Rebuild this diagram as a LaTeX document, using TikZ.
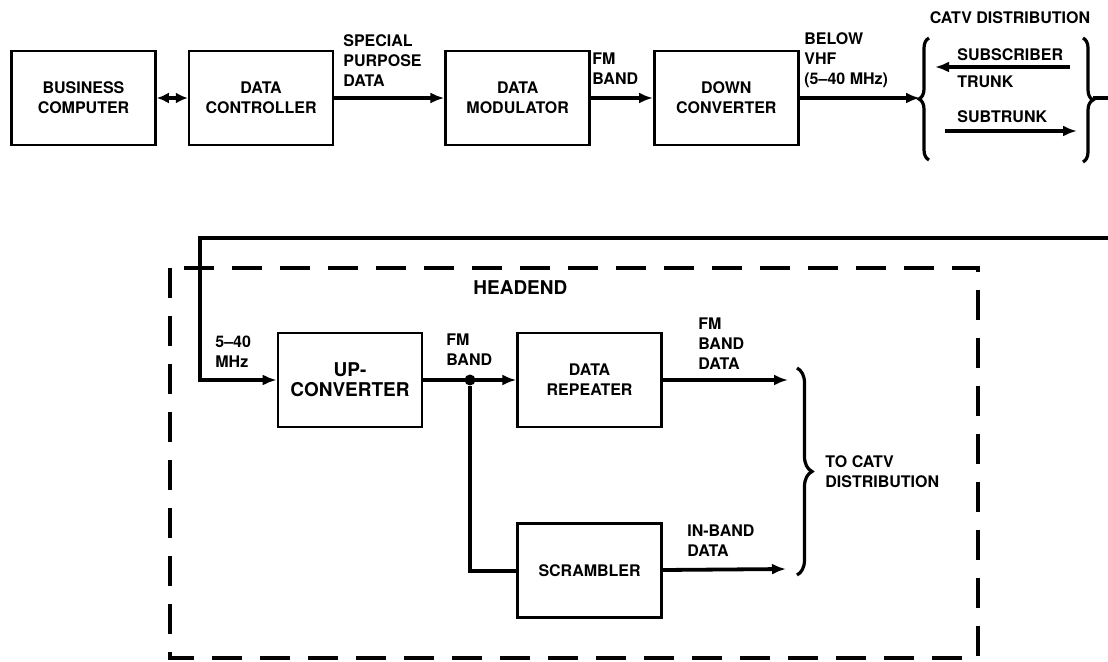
\documentclass[tikz,border=0pt]{standalone}
\usepackage{fontspec}
\setmainfont{TeX Gyre Heros}
\usetikzlibrary{arrows.meta,positioning,decorations.pathreplacing}

\begin{document}
\begin{tikzpicture}[
  x=0.5pt,y=-0.5pt,
  font=\fontsize{8}{10}\selectfont\bfseries,
  box/.style={draw,line width=1.3pt,align=center,minimum width=72pt,minimum height=47pt,inner sep=1pt},
  lbl/.style={anchor=west,align=left,inner sep=0pt},
  arr/.style={-{Latex[length=7pt,width=5.5pt]},line width=1.9pt},
  dbl/.style={{Latex[length=6pt,width=5.5pt]}-{Latex[length=6pt,width=5.5pt]},line width=1.9pt},
  wire/.style={line width=1.9pt},
  brk/.style={decorate,decoration={brace,amplitude=5pt},line width=1.6pt},
  frame/.style={line width=2pt,dash pattern=on 15pt off 9pt},
  dot/.style={circle,fill,inner sep=0pt,minimum size=5.5pt},
  big/.style={font=\fontsize{9.5}{10}\selectfont\bfseries}
]
  \useasboundingbox (0,0) rectangle (1108,662);

  \node[box] (bc) at (83.5,98) {BUSINESS\\COMPUTER};
  \node[box,right=15.5pt of bc] (ctrl) {DATA\\CONTROLLER};
  \node[box,right=55pt of ctrl] (mod) {DATA\\MODULATOR};
  \node[box,right=31pt of mod] (down) {DOWN\\CONVERTER};

  \node[lbl] (spd) at (343,61) {SPECIAL\\PURPOSE\\DATA};
  \node[lbl] (fmtop) at (592,69) {FM\\BAND};
  \node[lbl] (vhf) at (804,60) {BELOW\\VHF\\(5--40 MHz)};
  \node[inner sep=0pt] (catv) at (1010,18) {CATV DISTRIBUTION};
  \node[lbl] (subs) at (957,55) {SUBSCRIBER};
  \node[lbl] (trunk) at (957,82) {TRUNK};
  \node[lbl] (subt) at (957,117) {SUBTRUNK};

  \coordinate (ltip) at (920,98);
  \coordinate (sa) at (1070,67);
  \coordinate (sb) at (935,67);
  \coordinate (ta) at (945,131);
  \coordinate (tb) at (1077,131);
  \coordinate (rtip) at (1093,98);
  \coordinate (out) at (1108,98);

  \draw[dbl] (bc) -- (ctrl);
  \draw[arr] (ctrl) -- (mod);
  \draw[arr] (mod) -- (down);
  \draw[arr] (down) -- (ltip);
  \draw[brk] (929,160) -- (929,38);
  \draw[arr] (sa) -- (sb);
  \draw[arr] (ta) -- (tb);
  \draw[brk] (1083,38) -- (1083,162);
  \draw[wire] (rtip) -- (out);

  \draw[frame] (170,268) rectangle (978,658);
  \node[lbl,big] (head) at (473,288) {HEADEND};

  \node[box,big] (up) at (350,380) {UP-\\CONVERTER};
  \node[box,right=46.5pt of up] (rep) {DATA\\REPEATER};
  \node[box,below=47pt of rep] (scr) {SCRAMBLER};
  \node[dot] (jn) at (470,380) {};

  \node[lbl] (mhz) at (215,352) {5--40\\MHz};
  \node[lbl] (fmlow) at (446,350) {FM\\BAND};
  \node[lbl] (fmdata) at (698,344) {FM\\BAND\\DATA};
  \node[lbl] (inband) at (687,541) {IN-BAND\\DATA};
  \node[lbl] (tocatv) at (825,472) {TO CATV\\DISTRIBUTION};

  \coordinate (ret) at (1108,238);
  \coordinate (turn) at (200,238);
  \coordinate (o1) at (788,380);
  \coordinate (o2) at (786,569);

  \draw[arr] (ret) -- (turn) |- (up);
  \draw[arr] (up) -- (rep);
  \draw[wire] (jn) |- (scr);
  \draw[arr] (rep) -- (o1);
  \draw[arr] (scr) -- (o2);
  \draw[brk,decoration={brace,amplitude=7.5pt}] (797,368) -- (797,575);
\end{tikzpicture}
\end{document}
